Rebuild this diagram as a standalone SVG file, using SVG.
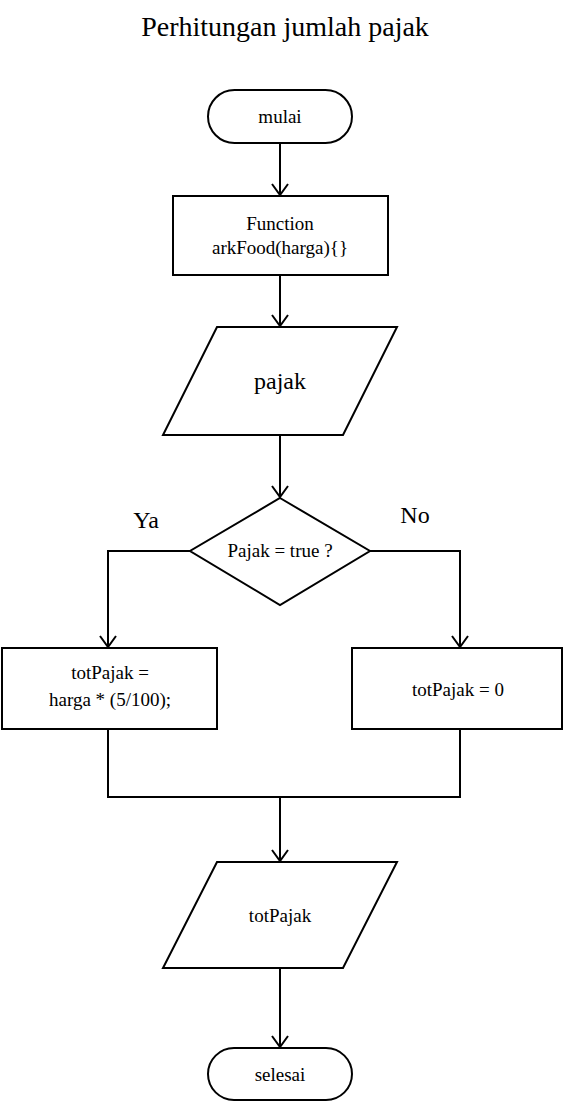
<svg xmlns="http://www.w3.org/2000/svg" width="569" height="1104" viewBox="0 0 569 1104">
<style>
.s{fill:#fff;stroke:#000;stroke-width:2}
.c{fill:none;stroke:#000;stroke-width:2}
text{font-family:"Liberation Serif","Times New Roman",serif;fill:#000;text-anchor:middle}
.t16{font-size:19px}
.t20{font-size:24px}
</style>
<defs>
<marker id="ah" markerUnits="userSpaceOnUse" markerWidth="20" markerHeight="20" refX="10" refY="12" orient="auto" overflow="visible">
<path d="M2,1 L10,12 L18,1" fill="none" stroke="#000" stroke-width="2" transform="rotate(-90 10 12)"/>
</marker>
</defs>
<rect width="569" height="1104" fill="#fff"/>
<text x="285" y="36" style="font-size:28px">Perhitungan jumlah pajak</text>
<g id="connectors">
<path class="c" d="M280,143 V195" marker-end="url(#ah)"/>
<path class="c" d="M280,275 V326" marker-end="url(#ah)"/>
<path class="c" d="M280,435 V497" marker-end="url(#ah)"/>
<path class="c" d="M190,551 H108 V647" marker-end="url(#ah)"/>
<path class="c" d="M370,551 H460 V647" marker-end="url(#ah)"/>
<path class="c" d="M108,729 V797 H460 V729"/>
<path class="c" d="M280,797 V861" marker-end="url(#ah)"/>
<path class="c" d="M280,968 V1047" marker-end="url(#ah)"/>
<text class="t20" x="146" y="528">Ya</text>
<text class="t20" x="415" y="523">No</text>
</g>
<g id="mulai">
<rect class="s" x="208" y="90" width="144" height="53" rx="26.5"/>
<text class="t16" x="280" y="123">mulai</text>
</g>
<g id="function">
<rect class="s" x="173" y="196" width="215" height="79"/>
<text class="t16" x="280" y="230">Function</text>
<text class="t16" x="280" y="254">arkFood(harga){}</text>
</g>
<g id="pajak">
<polygon class="s" points="217,327 397,327 343,435 163,435"/>
<text class="t20" x="280" y="389">pajak</text>
</g>
<g id="decision">
<polygon class="s" points="280,498 370,551 280,605 190,551"/>
<text class="t16" x="280" y="557">Pajak = true ?</text>
</g>
<g id="ya">
<rect class="s" x="2" y="648" width="215" height="81"/>
<text class="t16" x="110" y="679">totPajak =</text>
<text class="t16" x="110" y="706">harga * (5/100);</text>
</g>
<g id="no">
<rect class="s" x="352" y="648" width="210" height="81"/>
<text class="t16" x="458" y="696">totPajak = 0</text>
</g>
<g id="totPajak">
<polygon class="s" points="217,862 397,862 343,968 163,968"/>
<text class="t16" x="280" y="922">totPajak</text>
</g>
<g id="selesai">
<rect class="s" x="208" y="1048" width="144" height="52" rx="26"/>
<text class="t16" x="280" y="1081">selesai</text>
</g>
</svg>
